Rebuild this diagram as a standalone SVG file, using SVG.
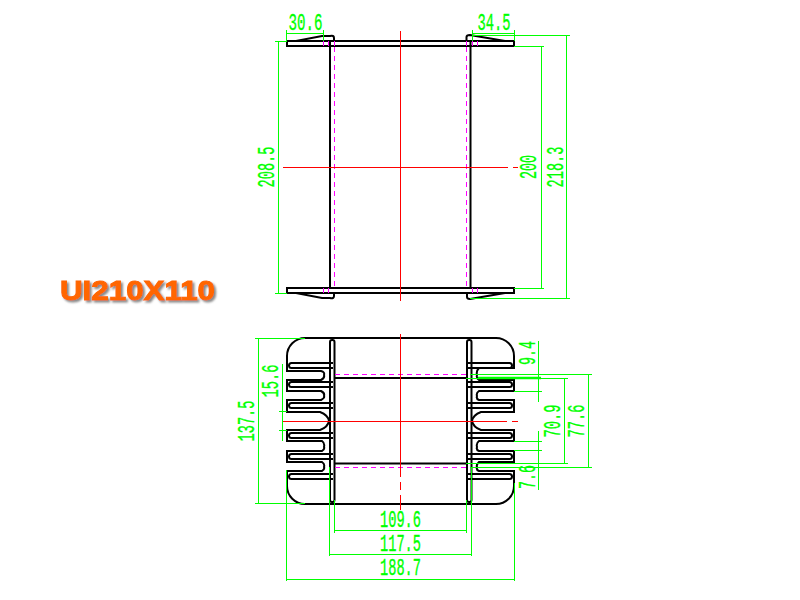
<svg xmlns="http://www.w3.org/2000/svg" width="800" height="600" viewBox="0 0 800 600">
<style>
.k{fill:none;stroke:#000;stroke-width:2}
.g{fill:none;stroke:#00ff00;stroke-width:1;shape-rendering:crispEdges}
.r{fill:none;stroke:#ff0000;stroke-width:1;shape-rendering:crispEdges}
.m{fill:none;stroke:#ff00ff;stroke-width:1;stroke-dasharray:5 4;shape-rendering:crispEdges}
.s{fill:none;stroke:#ff00ff;stroke-width:1;shape-rendering:crispEdges}
.t{font-family:"Liberation Mono",monospace;font-size:23px;fill:#00ff00;stroke:#00ff00;stroke-width:.35;text-anchor:middle}
.title{font-family:"Liberation Sans",Arial,sans-serif;font-size:27px;font-weight:bold;fill:#ff6600;stroke:#ff6600;stroke-width:1}
</style>
<defs>
<filter id="sh" x="-10%" y="-30%" width="120%" height="170%"><feDropShadow dx="2" dy="2" stdDeviation="1.2" flood-color="#888"/></filter>
<path id="slot" class="k" d="M333 0H291.500a2.500 2.500 0 0 0 0 5H333"/>
</defs>
<g id="title"><text class="title" x="60" y="300" textLength="155" lengthAdjust="spacingAndGlyphs" filter="url(#sh)">UI210X110</text></g>
<g id="top-view">
<rect class="k" x="287" y="41" width="227" height="5"/>
<rect class="k" x="287" y="288" width="227" height="5"/>
<path class="k" d="M330 41V288M470.500 41V288"/>
<path class="k" d="M296 41L322 36H330Q334 35 334 38V41M466.500 41V37Q466.500 35 470 35L505 41"/>
<path class="k" d="M296 293L322 298H330Q334 299 334 296V293M467 293V297Q467 299 470 299L505 293"/>
<path class="m" d="M334.500 47V288M466.500 47V288"/>
<path class="s" d="M323.500 41V46M328.500 41V46M334.500 41V46M466.500 41V46M472.500 41V46M477.500 41V46M323.500 288V293M328.500 288V293M472.500 288V293M477.500 288V293"/>
<path class="r" d="M400.500 31V301"/>
<path class="r" d="M283 167.500H508M513 167.500H518"/>
</g>
<g id="bottom-view">
<path class="k" d="M305 338H496A18 18 0 0 1 514 356V368H479Q476 371 477 375Q476 378 479 380H514V391H479Q476 393 477 396Q476 399 479 400H514V412H481Q473 415 472 421Q473 427 481 430H514V441H479Q476 443 477 447Q476 450 479 451H514V462H479Q476 465 477 467Q476 470 479 471H514V486A18 18 0 0 1 496 504H305A18 18 0 0 1 287 486V471H322Q325 469 324 467Q325 464 322 462H287V451H322Q325 449 324 447Q325 443 322 441H287V430H320Q328 427 329 421Q328 415 320 412H287V400H321Q325 398 324 396Q325 393 321 391H287V380H321Q325 378 324 375Q325 372 321 371H287V356A18 18 0 0 1 305 338Z"/>
<use href="#slot" y="363"/><use href="#slot" y="382"/><use href="#slot" y="403"/><use href="#slot" y="433"/><use href="#slot" y="454"/><use href="#slot" y="474"/>
<use href="#slot" transform="matrix(-1 0 0 1 801 363)"/><use href="#slot" transform="matrix(-1 0 0 1 801 382)"/><use href="#slot" transform="matrix(-1 0 0 1 801 403)"/><use href="#slot" transform="matrix(-1 0 0 1 801 433)"/><use href="#slot" transform="matrix(-1 0 0 1 801 454)"/><use href="#slot" transform="matrix(-1 0 0 1 801 474)"/>
<rect class="k" x="330" y="340" width="4.500" height="162" rx="2"/>
<rect class="k" x="467" y="340" width="4.500" height="162" rx="2"/>
<path class="k" d="M334 378H467M334 463.500H467"/>
<path class="m" d="M335 374.500H467M335 467.500H467"/>
<path class="r" d="M400.500 334V477M400.500 482V490M400.500 495V510"/>
<path class="r" d="M283 421.500H507M512 421.500H518"/>
</g>
<g id="connectors">
<path class="g" d="M286.500 30V41M323.500 30V41M287 33.500H323M472.500 30V41M514.500 30V41M472 33.500H514"/>
<path class="g" d="M275 41.500H287M275 293.500H287M278.500 41V293"/>
<path class="g" d="M472 35.500H570M514 46.500H544M514 288.500H544M470 298.500H570M541.500 46V288M566.500 35V298"/>
<path class="g" d="M255 338.500H305M255 503.500H305M258.500 338V504M279 411.500H287M279 430.500H287M282.500 364V441"/>
<path class="g" d="M470 374.500H592M466 378.500H568M514 391.500H542M514 441.500H542M514 450.500H542M466 463.500H568M470 467.500H592M538.500 341V402M538.500 431V490M564.500 378V464M588.500 374V468"/>
<path d="M478 378H541" stroke="#00ff00" stroke-width="2.500" fill="none"/>
<path class="g" d="M334.500 500V533M466.500 500V533M334 530.500H467M329.500 467V556M471.500 467V556M329 554.500H472M286.500 470V581M514.500 483V581M287 579.500H514"/>
</g>
<g id="labels">
<text class="t" x="305.500" y="30" textLength="34" lengthAdjust="spacingAndGlyphs">30.6</text>
<text class="t" x="494" y="30" textLength="33" lengthAdjust="spacingAndGlyphs">34.5</text>
<text class="t" transform="translate(274 167) rotate(-90)" textLength="41" lengthAdjust="spacingAndGlyphs">208.5</text>
<text class="t" transform="translate(536 167) rotate(-90)" textLength="24" lengthAdjust="spacingAndGlyphs">200</text>
<text class="t" transform="translate(563 167) rotate(-90)" textLength="41" lengthAdjust="spacingAndGlyphs">218.3</text>
<text class="t" transform="translate(254 421) rotate(-90)" textLength="41" lengthAdjust="spacingAndGlyphs">137.5</text>
<text class="t" transform="translate(278 381) rotate(-90)" textLength="33" lengthAdjust="spacingAndGlyphs">15.6</text>
<text class="t" transform="translate(535 353) rotate(-90)" textLength="24" lengthAdjust="spacingAndGlyphs">9.4</text>
<text class="t" transform="translate(535 477) rotate(-90)" textLength="24" lengthAdjust="spacingAndGlyphs">7.6</text>
<text class="t" transform="translate(560 421) rotate(-90)" textLength="33" lengthAdjust="spacingAndGlyphs">70.9</text>
<text class="t" transform="translate(584 421) rotate(-90)" textLength="33" lengthAdjust="spacingAndGlyphs">77.6</text>
<text class="t" x="400.500" y="527" textLength="41" lengthAdjust="spacingAndGlyphs">109.6</text>
<text class="t" x="400.500" y="551" textLength="41" lengthAdjust="spacingAndGlyphs">117.5</text>
<text class="t" x="400.500" y="575" textLength="41" lengthAdjust="spacingAndGlyphs">188.7</text>
</g>
</svg>
